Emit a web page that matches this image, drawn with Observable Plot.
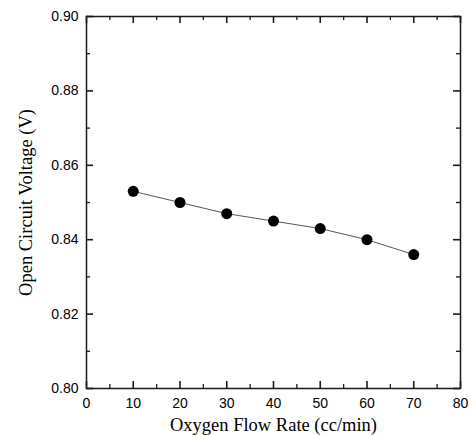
<!DOCTYPE html>
<html><head><meta charset="utf-8">
<script src="https://cdn.jsdelivr.net/npm/d3@7"></script>
<script src="https://cdn.jsdelivr.net/npm/@observablehq/plot@0.6"></script>
<style>
body{margin:0;background:#fff;}
svg{font-family:"Liberation Sans",Arial,sans-serif;}
g[aria-label="x-axis label"] text, g[aria-label="y-axis label"] text{font-family:"Liberation Serif","Times New Roman",serif;font-size:18.5px;}
</style>
</head><body>
<div id="chart"></div>
<script>
const flowRate = [10, 20, 30, 40, 50, 60, 70];
const voltage = [0.853, 0.850, 0.847, 0.845, 0.843, 0.840, 0.836];
const xMajor = [0, 10, 20, 30, 40, 50, 60, 70, 80];
const xMinor = [5, 15, 25, 35, 45, 55, 65, 75];
const yMajor = [0.80, 0.82, 0.84, 0.86, 0.88, 0.90];
const yMinor = [0.81, 0.83, 0.85, 0.87, 0.89];
const xTitle = "Oxygen Flow Rate (cc/min)";
const yTitle = "Open Circuit Voltage (V)";

const W = 471, H = 435, mL = 86, mR = 11, mT = 16, mB = 47;
const iw = W - mL - mR, ih = H - mT - mB;
const data = flowRate.map((x, i) => ({x, y: voltage[i]}));
const major = 7, minor = 4;
const tk = "#1a1a1a";

const chart = Plot.plot({
  width: W, height: H,
  marginLeft: mL, marginRight: mR, marginTop: mT, marginBottom: mB,
  style: {background: "#fff", color: "#000"},
  x: {domain: [0, 80]},
  y: {domain: [0.80, 0.90]},
  marks: [
    Plot.frame({stroke: tk, strokeWidth: 1.5}),
    Plot.tickX(xMajor, {x: d => d, insetTop: ih - major, stroke: tk, strokeWidth: 1.6}),
    Plot.tickX(xMajor, {x: d => d, insetBottom: ih - major, stroke: tk, strokeWidth: 1.6}),
    Plot.tickX(xMinor, {x: d => d, insetTop: ih - minor, stroke: tk, strokeWidth: 1.3}),
    Plot.tickX(xMinor, {x: d => d, insetBottom: ih - minor, stroke: tk, strokeWidth: 1.3}),
    Plot.tickY(yMajor, {y: d => d, insetRight: iw - major, stroke: tk, strokeWidth: 1.6}),
    Plot.tickY(yMajor, {y: d => d, insetLeft: iw - major, stroke: tk, strokeWidth: 1.6}),
    Plot.tickY(yMinor, {y: d => d, insetRight: iw - minor, stroke: tk, strokeWidth: 1.3}),
    Plot.tickY(yMinor, {y: d => d, insetLeft: iw - minor, stroke: tk, strokeWidth: 1.3}),
    Plot.axisX({ticks: xMajor, tickSize: 0, tickPadding: 10, fontSize: 14, label: xTitle, labelAnchor: "center", labelOffset: 42, labelArrow: "none"}),
    Plot.axisY({ticks: yMajor, tickSize: 0, tickPadding: 8, tickFormat: d3.format(".2f"), fontSize: 14, label: yTitle, labelAnchor: "center", labelOffset: 68, labelArrow: "none"}),
    Plot.line(data, {x: "x", y: "y", stroke: "#555", strokeWidth: 1}),
    Plot.dot(data, {x: "x", y: "y", r: 5.5, fill: "#000", stroke: "none"})
  ]
});
document.getElementById("chart").appendChild(chart);
</script>
</body></html>
